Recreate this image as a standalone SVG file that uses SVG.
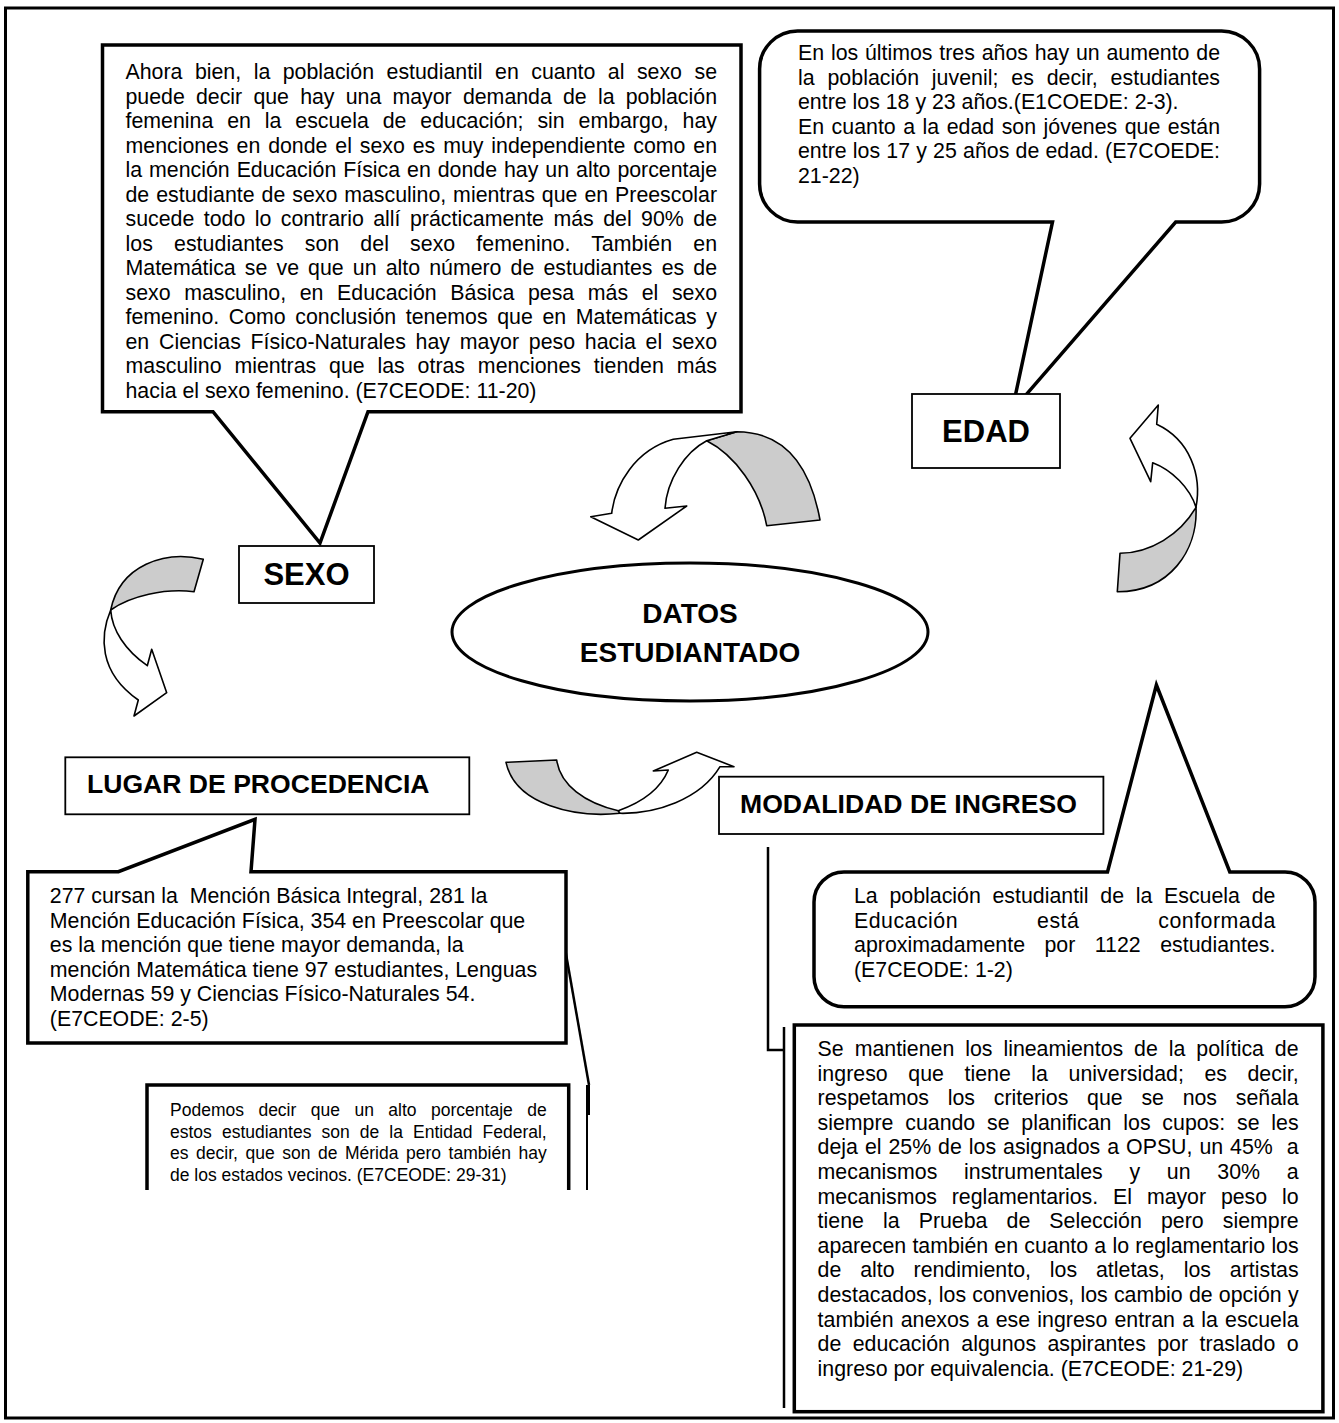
<svg xmlns="http://www.w3.org/2000/svg" width="1339" height="1423" viewBox="0 0 1339 1423">
<style>
.t{font-family:"Liberation Sans",Arial,sans-serif;font-size:21.33px;fill:#000}
.s{font-family:"Liberation Sans",Arial,sans-serif;font-size:17.5px;fill:#000}
.h{font-family:"Liberation Sans",Arial,sans-serif;font-weight:bold;fill:#000}
.box{fill:#fff;stroke:#000;stroke-width:3.5;stroke-linejoin:miter}
.hbox{fill:#fff;stroke:#000;stroke-width:1.8}
.ar{fill:#fff;stroke:#000;stroke-width:1.6;stroke-linejoin:round}
.band{fill:#cccccc;stroke:#000;stroke-width:1.6;stroke-linejoin:round}
.ln{fill:none;stroke:#000;stroke-width:2.5}
</style>
<rect x="5.5" y="8" width="1328" height="1410" fill="#fff" stroke="#000" stroke-width="3"/>

<g id="connectors">
  <g id="arrow-top">
    <path class="band" d="M766.7,525.7 L820,520 C810,465 785,432 736.7,431.7 L706.7,440.7 C735,455 760,490 766.7,525.7 Z"/>
    <path class="ar" d="M706.7,440.7 L736.7,431.7 L673.3,439.3 C635,450 615,485 611.7,513.3 L590.7,516.7 L638.3,540 L686.7,506 L665,508.3 C667,480 685,452 706.7,440.7 Z"/>
  </g>
  <g id="arrow-left">
    <path class="band" d="M203.3,559.3 C165,550 120,565 110.7,610 C130,596 165,588 194,591.7 Z"/>
    <path class="ar" d="M110.7,610 C100,635 98,672 138.3,700 L134,716 L166.7,692.7 L151.7,649.3 L147.3,665.7 C125,650 112,630 110.7,610 Z"/>
  </g>
  <g id="arrow-bottom">
    <path class="band" d="M506,762.3 L556.7,760 C560,785 585,803 618.3,810.7 L620,813.3 C575,818 515,805 506,762.3 Z"/>
    <path class="ar" d="M618.3,810.7 L620,813.3 C655,814 700,800 720,766.7 L734,766.7 L696.7,752.3 L653.3,771 L668.3,770 C660,790 640,803 618.3,810.7 Z"/>
  </g>
  <g id="arrow-right">
    <path class="band" d="M1117.3,591.7 L1120,553.3 C1150,553 1180,535 1196,507.3 C1198,550 1170,592 1117.3,591.7 Z"/>
    <path class="ar" d="M1196,507.3 C1202,475 1190,440 1156.7,424.3 L1158.3,405 L1130,438.3 L1150.7,481.7 L1152.7,462.7 C1172,470 1190,488 1196,507.3 Z"/>
  </g>
  <polyline class="ln" points="565.3,950 589,1085"/>
  <line x1="588" y1="1085" x2="588" y2="1115" stroke="#000" stroke-width="4"/>
  <line x1="587" y1="1113" x2="587" y2="1190" stroke="#000" stroke-width="2"/>
  <polyline class="ln" points="768,847 768,1050 784,1050"/>
  <line x1="784" y1="1027" x2="784" y2="1408" stroke="#000" stroke-width="2.5"/>
</g>

<g id="sexo-callout">
  <path class="box" d="M102.5,45 H741 V411.7 H368 L320,543 L213,411.7 H102.5 Z"/>
  <g class="t">
    <text x="125.5" y="79" textLength="591.5" lengthAdjust="spacing" word-spacing="6.57">Ahora bien, la población estudiantil en cuanto al sexo se</text>
    <text x="125.5" y="103.5" textLength="591.5" lengthAdjust="spacing" word-spacing="5.26">puede decir que hay una mayor demanda de la población</text>
    <text x="125.5" y="128" textLength="591.5" lengthAdjust="spacing" word-spacing="7.99">femenina en la escuela de educación; sin embargo, hay</text>
    <text x="125.5" y="152.5" textLength="591.5" lengthAdjust="spacing" word-spacing="1.96">menciones en donde el sexo es muy independiente como en</text>
    <text x="125.5" y="177" textLength="591.5" lengthAdjust="spacing" word-spacing="1.04">la mención Educación Física en donde hay un alto porcentaje</text>
    <text x="125.5" y="201.5" textLength="591.5" lengthAdjust="spacing" word-spacing="1.03">de estudiante de sexo masculino, mientras que en Preescolar</text>
    <text x="125.5" y="226" textLength="591.5" lengthAdjust="spacing" word-spacing="3.54">sucede todo lo contrario allí prácticamente más del 90% de</text>
    <text x="125.5" y="250.5" textLength="591.5" lengthAdjust="spacing" word-spacing="15.06">los estudiantes son del sexo femenino. También en</text>
    <text x="125.5" y="275" textLength="591.5" lengthAdjust="spacing" word-spacing="3.19">Matemática se ve que un alto número de estudiantes es de</text>
    <text x="125.5" y="299.5" textLength="591.5" lengthAdjust="spacing" word-spacing="7.7">sexo masculino, en Educación Básica pesa más el sexo</text>
    <text x="125.5" y="324" textLength="591.5" lengthAdjust="spacing" word-spacing="3.71">femenino. Como conclusión tenemos que en Matemáticas y</text>
    <text x="125.5" y="348.5" textLength="591.5" lengthAdjust="spacing" word-spacing="3.85">en Ciencias Físico-Naturales hay mayor peso hacia el sexo</text>
    <text x="125.5" y="373" textLength="591.5" lengthAdjust="spacing" word-spacing="6.94">masculino mientras que las otras menciones tienden más</text>
    <text x="125.5" y="397.5">hacia el sexo femenino. (E7CEODE: 11-20)</text>
  </g>
</g>

<g id="edad-callout">
  <path class="box" d="M797.6,31 H1221.6 A38,38 0 0 1 1259.6,69 V184 A38,38 0 0 1 1221.6,222 H1175.7 L1012,411 L1052.5,222 H797.6 A38,38 0 0 1 759.6,184 V69 A38,38 0 0 1 797.6,31 Z"/>
  <g class="t">
    <text x="798" y="60" textLength="422" lengthAdjust="spacing" word-spacing="0.88">En los últimos tres años hay un aumento de</text>
    <text x="798" y="84.5" textLength="422" lengthAdjust="spacing" word-spacing="6.86">la población juvenil; es decir, estudiantes</text>
    <text x="798" y="109">entre los 18 y 23 años.(E1COEDE: 2-3).</text>
    <text x="798" y="133.5" textLength="422" lengthAdjust="spacing" word-spacing="1.6">En cuanto a la edad son jóvenes que están</text>
    <text x="798" y="158" textLength="422" lengthAdjust="spacing" word-spacing="0.29">entre los 17 y 25 años de edad. (E7COEDE:</text>
    <text x="798" y="182.5">21-22)</text>
  </g>
</g>

<g id="edad">
  <rect class="hbox" x="912" y="394" width="148" height="74"/>
  <text class="h" x="986" y="442" font-size="31" text-anchor="middle">EDAD</text>
</g>

<g id="sexo">
  <rect class="hbox" x="239" y="546" width="135" height="57"/>
  <text class="h" x="306.5" y="585" font-size="31" text-anchor="middle">SEXO</text>
</g>

<g id="datos">
  <ellipse cx="690" cy="632" rx="238" ry="69" fill="#fff" stroke="#000" stroke-width="3"/>
  <text class="h" x="690" y="623" font-size="28" text-anchor="middle">DATOS</text>
  <text class="h" x="690" y="662" font-size="28" text-anchor="middle">ESTUDIANTADO</text>
</g>

<g id="lugar">
  <rect class="hbox" x="65.3" y="757.3" width="404" height="57"/>
  <text class="h" x="87" y="792.7" font-size="26.6" textLength="342.5" lengthAdjust="spacingAndGlyphs">LUGAR DE PROCEDENCIA</text>
</g>

<g id="modalidad">
  <rect class="hbox" x="719" y="776.7" width="384.4" height="57.3"/>
  <text class="h" x="740" y="812.7" font-size="26.6" textLength="337" lengthAdjust="spacingAndGlyphs">MODALIDAD DE INGRESO</text>
</g>

<g id="lugar-callout">
  <path class="box" d="M27.8,871.7 H118.4 L255,819.3 L251,871.7 H566 V1043 H27.8 Z"/>
  <g class="t">
    <text x="49.8" y="903" xml:space="preserve">277 cursan la  Mención Básica Integral, 281 la</text>
    <text x="49.8" y="927.5">Mención Educación Física, 354 en Preescolar que</text>
    <text x="49.8" y="952">es la mención que tiene mayor demanda, la</text>
    <text x="49.8" y="976.5">mención Matemática tiene 97 estudiantes, Lenguas</text>
    <text x="49.8" y="1001">Modernas 59 y Ciencias Físico-Naturales 54.</text>
    <text x="49.8" y="1025.5">(E7CEODE: 2-5)</text>
  </g>
</g>

<g id="podemos">
  <path class="box" d="M147,1190 V1085 H568.7 V1190"/>
  <g class="s">
    <text x="170" y="1116" textLength="376.7" lengthAdjust="spacing" word-spacing="9.6">Podemos decir que un alto porcentaje de</text>
    <text x="170" y="1137.5" textLength="376.7" lengthAdjust="spacing" word-spacing="5.23">estos estudiantes son de la Entidad Federal,</text>
    <text x="170" y="1159" textLength="376.7" lengthAdjust="spacing" word-spacing="2.59">es decir, que son de Mérida pero también hay</text>
    <text x="170" y="1180.5">de los estados vecinos. (E7CEODE: 29-31)</text>
  </g>
</g>

<g id="modalidad-callout">
  <path class="box" d="M844,872 H1107.5 L1156.4,685 L1229.8,872 H1285 A30,30 0 0 1 1315,902 V976.7 A30,30 0 0 1 1285,1006.7 H844 A30,30 0 0 1 814,976.7 V902 A30,30 0 0 1 844,872 Z"/>
  <g class="t">
    <text x="854" y="903" textLength="421.4" lengthAdjust="spacing" word-spacing="5.8">La población estudiantil de la Escuela de</text>
    <text x="854" y="927.5" textLength="421.4" lengthAdjust="spacing" word-spacing="72.6">Educación está conformada</text>
    <text x="854" y="952" textLength="421.4" lengthAdjust="spacing" word-spacing="13.5">aproximadamente por 1122 estudiantes.</text>
    <text x="854" y="976.5">(E7CEODE: 1-2)</text>
  </g>
</g>

<g id="ingreso-box">
  <rect class="box" x="794.3" y="1025" width="528.6" height="386.7"/>
  <g class="t">
    <text x="817.6" y="1056" textLength="481" lengthAdjust="spacing" word-spacing="5.03">Se mantienen los lineamientos de la política de</text>
    <text x="817.6" y="1080.6" textLength="481" lengthAdjust="spacing" word-spacing="14.57">ingreso que tiene la universidad; es decir,</text>
    <text x="817.6" y="1105.2" textLength="481" lengthAdjust="spacing" word-spacing="12.8">respetamos los criterios que se nos señala</text>
    <text x="817.6" y="1129.8" textLength="481" lengthAdjust="spacing" word-spacing="5.89">siempre cuando se planifican los cupos: se les</text>
    <text x="817.6" y="1154.4" textLength="481" lengthAdjust="spacing" word-spacing="1.05" xml:space="preserve">deja el 25% de los asignados a OPSU, un 45%  a</text>
    <text x="817.6" y="1179" textLength="481" lengthAdjust="spacing" word-spacing="20.8">mecanismos instrumentales y un 30% a</text>
    <text x="817.6" y="1203.6" textLength="481" lengthAdjust="spacing" word-spacing="9.14">mecanismos reglamentarios. El mayor peso lo</text>
    <text x="817.6" y="1228.2" textLength="481" lengthAdjust="spacing" word-spacing="13.18">tiene la Prueba de Selección pero siempre</text>
    <text x="817.6" y="1252.8" textLength="481" lengthAdjust="spacing" word-spacing="0.41">aparecen también en cuanto a lo reglamentario los</text>
    <text x="817.6" y="1277.4" textLength="481" lengthAdjust="spacing" word-spacing="12.98">de alto rendimiento, los atletas, los artistas</text>
    <text x="817.6" y="1302" textLength="481" lengthAdjust="spacing" word-spacing="0.29">destacados, los convenios, los cambio de opción y</text>
    <text x="817.6" y="1326.6" textLength="481" lengthAdjust="spacing" word-spacing="1.29">también anexos a ese ingreso entran a la escuela</text>
    <text x="817.6" y="1351.2" textLength="481" lengthAdjust="spacing" word-spacing="5.47">de educación algunos aspirantes por traslado o</text>
    <text x="817.6" y="1375.8">ingreso por equivalencia. (E7CEODE: 21-29)</text>
  </g>
</g>
</svg>
